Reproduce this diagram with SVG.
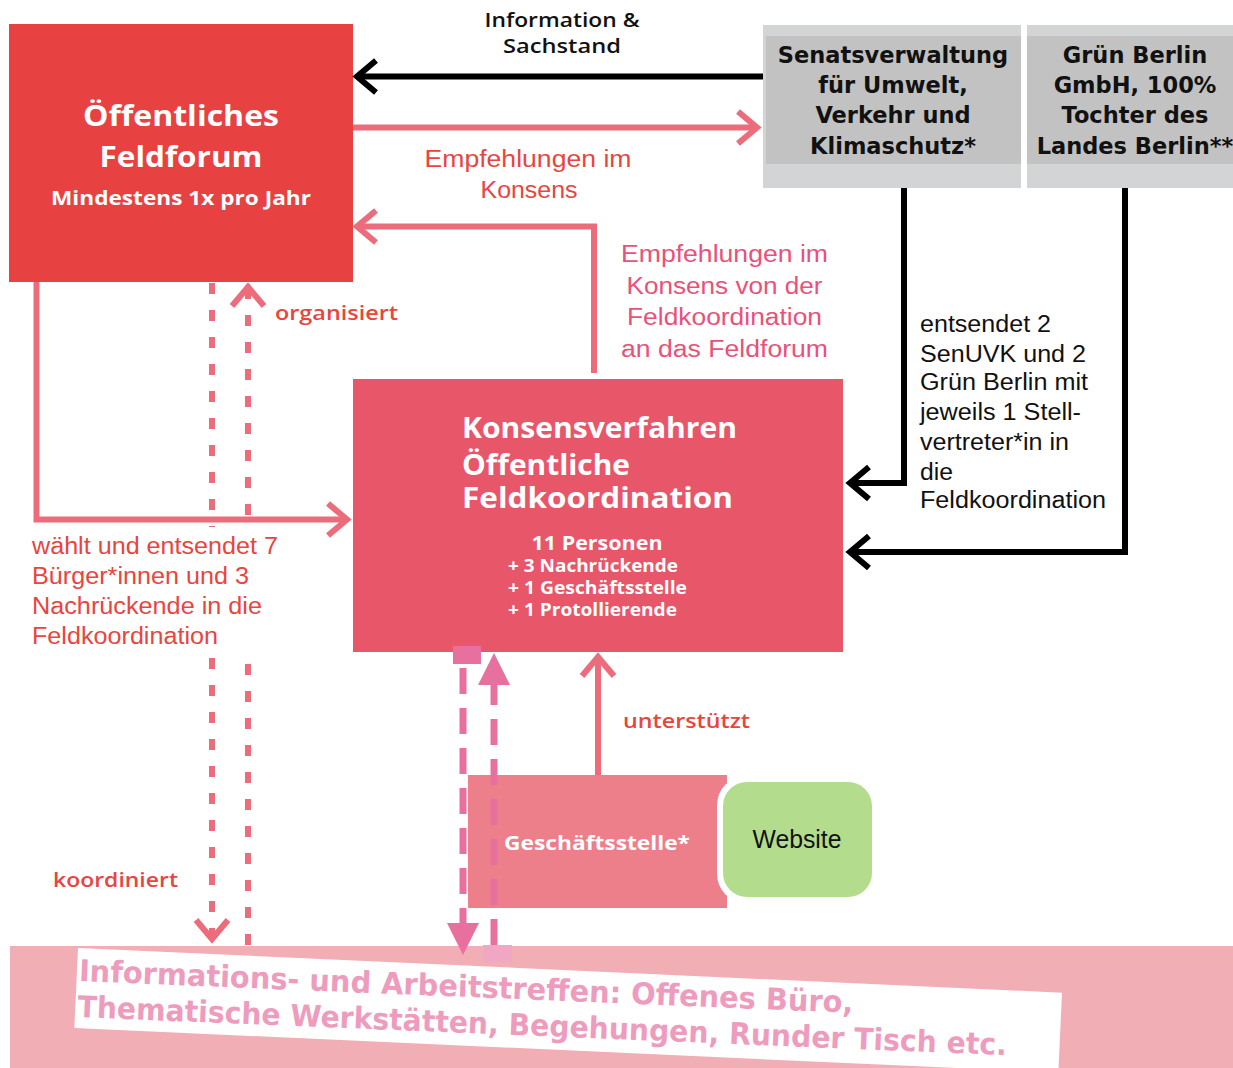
<svg xmlns="http://www.w3.org/2000/svg" width="1233" height="1068" viewBox="0 0 1233 1068">
<defs>
<style>
.hd{font-family:"Open Sans","Liberation Sans",sans-serif;font-weight:700;fill:#fff}
.lbl{font-family:"Open Sans","Liberation Sans",sans-serif;font-weight:600;font-size:20px;fill:#E8453F}
.body{font-family:"Liberation Sans",Arial,sans-serif;font-size:23.5px}
.gray{font-family:"DejaVu Sans",Verdana,sans-serif;font-weight:700;font-size:22.5px;fill:#111;text-anchor:middle}
.pl{fill:none;stroke:#EC6C7B;stroke-width:6}
.bl{fill:none;stroke:#000;stroke-width:6}
.dp{fill:none;stroke:#EC6C7B;stroke-width:6;stroke-dasharray:11 16}
.dm{fill:none;stroke:#E8709F;stroke-width:7;stroke-dasharray:26 14}
</style>
<marker id="chevP" markerUnits="userSpaceOnUse" markerWidth="60" markerHeight="60" viewBox="-30 -30 60 60" refX="0" refY="0" orient="auto" overflow="visible">
<path d="M-19,-16 L0,0 L-19,16" fill="none" stroke="#EC6C7B" stroke-width="6"/>
</marker>
<marker id="chevB" markerUnits="userSpaceOnUse" markerWidth="60" markerHeight="60" viewBox="-30 -30 60 60" refX="0" refY="0" orient="auto" overflow="visible">
<path d="M-19,-16 L0,0 L-19,16" fill="none" stroke="#000" stroke-width="6"/>
</marker>
<marker id="triM" markerUnits="userSpaceOnUse" markerWidth="60" markerHeight="60" viewBox="-30 -30 60 60" refX="0" refY="0" orient="auto" overflow="visible">
<path d="M-12,-16 L20,0 L-12,16 Z" fill="#E8709F"/>
</marker>
</defs>
<rect width="1233" height="1068" fill="#fff"/>

<g id="feldforum">
<rect x="9" y="24" width="344" height="258" fill="#E84142"/>
<text class="hd" x="181" y="126" font-size="28" text-anchor="middle" textLength="196" lengthAdjust="spacingAndGlyphs">Öffentliches</text>
<text class="hd" x="181" y="167" font-size="28" text-anchor="middle" textLength="163" lengthAdjust="spacingAndGlyphs">Feldforum</text>
<text class="hd" x="181" y="205" font-size="19" text-anchor="middle" textLength="260" lengthAdjust="spacingAndGlyphs">Mindestens 1x pro Jahr</text>
</g>

<g id="senatsverwaltung">
<rect x="763" y="25" width="258" height="163" fill="#D3D4D6"/>
<rect x="766" y="36" width="255" height="128" fill="#C2C2C2"/>
<text class="gray" x="893" y="63">Senatsverwaltung</text>
<text class="gray" x="893" y="93">für Umwelt,</text>
<text class="gray" x="893" y="123">Verkehr und</text>
<text class="gray" x="893" y="154">Klimaschutz*</text>
</g>

<g id="gruen-berlin">
<rect x="1027" y="25" width="206" height="163" fill="#D3D4D6"/>
<rect x="1027" y="36" width="206" height="128" fill="#C2C2C2"/>
<text class="gray" x="1135" y="63">Grün Berlin</text>
<text class="gray" x="1135" y="93">GmbH, 100%</text>
<text class="gray" x="1135" y="123">Tochter des</text>
<text class="gray" x="1135" y="154">Landes Berlin**</text>
</g>

<g id="feldkoordination">
<rect x="353" y="379" width="490" height="273" fill="#E8566A"/>
<text class="hd" x="462" y="438" font-size="29" textLength="275" lengthAdjust="spacingAndGlyphs">Konsensverfahren</text>
<text class="hd" x="462" y="475" font-size="29" textLength="168" lengthAdjust="spacingAndGlyphs">Öffentliche</text>
<text class="hd" x="462" y="508" font-size="29" textLength="271" lengthAdjust="spacingAndGlyphs">Feldkoordination</text>
<text class="hd" x="597" y="550" font-size="20" text-anchor="middle" textLength="131" lengthAdjust="spacingAndGlyphs">11 Personen</text>
<text class="hd" x="508" y="572" font-size="17" textLength="170" lengthAdjust="spacingAndGlyphs">+ 3 Nachrückende</text>
<text class="hd" x="508" y="594" font-size="17" textLength="179" lengthAdjust="spacingAndGlyphs">+ 1 Geschäftsstelle</text>
<text class="hd" x="508" y="616" font-size="17" textLength="169" lengthAdjust="spacingAndGlyphs">+ 1 Protollierende</text>
</g>

<g id="geschaeftsstelle">
<rect x="468" y="775" width="259" height="133" fill="#EC7F89"/>
<text class="hd" x="504" y="850" font-size="20" textLength="186" lengthAdjust="spacingAndGlyphs">Geschäftsstelle*</text>
</g>

<g id="website">
<rect x="717" y="776" width="161" height="127" rx="29" fill="#fff"/>
<rect x="723" y="782" width="149" height="115" rx="24" fill="#B3DD8D"/>
<text x="797" y="848" font-family="Liberation Sans, Arial, sans-serif" font-size="25" fill="#111" text-anchor="middle" textLength="89" lengthAdjust="spacingAndGlyphs">Website</text>
</g>

<g id="informationstreffen">
<rect x="10" y="946" width="1223" height="122" fill="#F2AEB5"/>
<g transform="rotate(2.6 78 948)">
<rect x="78" y="948" width="985" height="80" fill="#fff"/>
</g>
<g transform="rotate(2.35 78 948)">
<text x="80" y="981" font-family="DejaVu Sans, Verdana, sans-serif" font-weight="700" font-size="30" fill="#EE9CBD" textLength="775" lengthAdjust="spacingAndGlyphs">Informations- und Arbeitstreffen: Offenes Büro,</text>
<text x="80" y="1017" font-family="DejaVu Sans, Verdana, sans-serif" font-weight="700" font-size="30" fill="#EE9CBD" textLength="930" lengthAdjust="spacingAndGlyphs">Thematische Werkstätten, Begehungen, Runder Tisch etc.</text>
</g>
</g>

<g id="connectors">
<path class="bl" d="M763,76.5 L357,76.5" marker-end="url(#chevB)"/>
<path class="pl" d="M353,127.5 L757,127.5" marker-end="url(#chevP)"/>
<path class="pl" d="M594,373 L594,226.5 L357,226.5" marker-end="url(#chevP)"/>
<path class="pl" d="M36.5,282 L36.5,519.5 L347,519.5" marker-end="url(#chevP)"/>
<path class="bl" d="M904,188 L904,483 L850,483" marker-end="url(#chevB)"/>
<path class="bl" d="M1125,188 L1125,552 L850,552" marker-end="url(#chevB)"/>
<path class="pl" d="M598,775 L598,657" marker-end="url(#chevP)"/>
<path class="dp" d="M212,283 L212,527"/>
<path class="dp" d="M212,658 L212,939" marker-end="url(#chevP)"/>
<path class="dp" d="M248,945 L248,663"/>
<path class="dp" d="M248,515 L248,287" marker-end="url(#chevP)"/>
<rect x="453" y="646" width="28" height="18" fill="#E8709F"/>
<path class="dm" d="M463,668 L463,935" marker-end="url(#triM)"/>
<path class="dm" d="M494,945 L494,673" marker-end="url(#triM)"/>
<rect x="483" y="945" width="29" height="17" fill="#F0A7C3"/>
</g>

<g id="labels">
<text x="562" y="27" font-family="Open Sans, Liberation Sans, sans-serif" font-weight="600" font-size="19" fill="#111" text-anchor="middle" textLength="155" lengthAdjust="spacingAndGlyphs">Information &amp;</text>
<text x="562" y="53" font-family="Open Sans, Liberation Sans, sans-serif" font-weight="600" font-size="19" fill="#111" text-anchor="middle" textLength="118" lengthAdjust="spacingAndGlyphs">Sachstand</text>
<text class="body" x="528" y="167" font-size="24" fill="#E8453F" text-anchor="middle" textLength="207" lengthAdjust="spacingAndGlyphs">Empfehlungen im</text>
<text class="body" x="529" y="198" font-size="24" fill="#E8453F" text-anchor="middle" textLength="97" lengthAdjust="spacingAndGlyphs">Konsens</text>
<text class="body" x="724.5" y="262" font-size="24.5" fill="#E9517A" text-anchor="middle" textLength="207" lengthAdjust="spacingAndGlyphs">Empfehlungen im</text>
<text class="body" x="724.5" y="294" font-size="24.5" fill="#E9517A" text-anchor="middle" textLength="196" lengthAdjust="spacingAndGlyphs">Konsens von der</text>
<text class="body" x="724.5" y="325" font-size="24.5" fill="#E9517A" text-anchor="middle" textLength="195" lengthAdjust="spacingAndGlyphs">Feldkoordination</text>
<text class="body" x="724.5" y="357" font-size="24.5" fill="#E9517A" text-anchor="middle" textLength="207" lengthAdjust="spacingAndGlyphs">an das Feldforum</text>
<g class="body" fill="#111">
<text x="920" y="332" textLength="131" lengthAdjust="spacingAndGlyphs">entsendet 2</text>
<text x="920" y="362" textLength="166" lengthAdjust="spacingAndGlyphs">SenUVK und 2</text>
<text x="920" y="390" textLength="168" lengthAdjust="spacingAndGlyphs">Grün Berlin mit</text>
<text x="920" y="420" textLength="161" lengthAdjust="spacingAndGlyphs">jeweils 1 Stell-</text>
<text x="920" y="450" textLength="149" lengthAdjust="spacingAndGlyphs">vertreter*in in</text>
<text x="920" y="480" textLength="33" lengthAdjust="spacingAndGlyphs">die</text>
<text x="920" y="508" textLength="186" lengthAdjust="spacingAndGlyphs">Feldkoordination</text>
</g>
<g class="body" fill="#E8453F" font-size="24">
<text x="32" y="554" textLength="246" lengthAdjust="spacingAndGlyphs">wählt und entsendet 7</text>
<text x="32" y="584" textLength="217" lengthAdjust="spacingAndGlyphs">Bürger*innen und 3</text>
<text x="32" y="614" textLength="230" lengthAdjust="spacingAndGlyphs">Nachrückende in die</text>
<text x="32" y="644" textLength="186" lengthAdjust="spacingAndGlyphs">Feldkoordination</text>
</g>
<text class="lbl" x="275" y="320" textLength="123" lengthAdjust="spacingAndGlyphs">organisiert</text>
<text class="lbl" x="53" y="887" textLength="125" lengthAdjust="spacingAndGlyphs">koordiniert</text>
<text class="lbl" x="623" y="728" textLength="127" lengthAdjust="spacingAndGlyphs">unterstützt</text>
</g>
</svg>
